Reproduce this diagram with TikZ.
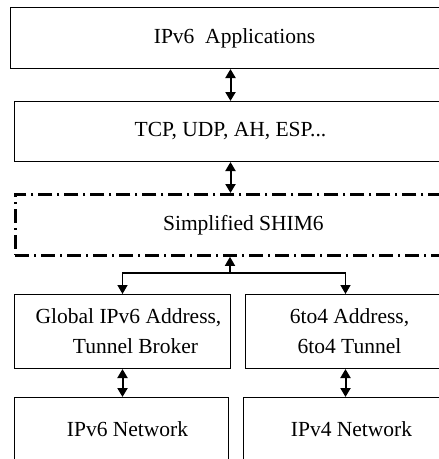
\documentclass[tikz,border=0pt]{standalone}
\usepackage{fontspec}
\setmainfont{Liberation Serif}
\usetikzlibrary{arrows.meta}
\tikzset{
  layer/.style={draw, line width=1pt, anchor=north west, inner sep=0pt,
    align=center, font=\fontsize{21.5}{30}\selectfont},
  shimbox/.style={layer, line width=2.8pt,
    dash pattern=on 14pt off 5pt on 2pt off 5pt},
  link/.style={line width=2pt,
    {Triangle[length=9pt,width=10pt]}-{Triangle[length=9pt,width=10pt]}},
  uplink/.style={line width=1.4pt, -{Triangle[length=9pt,width=10pt]}}
}
\begin{document}
\begin{tikzpicture}[x=1pt,y=-1pt]
  \useasboundingbox (0,0) rectangle (439,459);
  \clip (0,0) rectangle (439,459);
  \node[layer, minimum width=448pt, minimum height=61pt] (app) at (10,7) {IPv6\ \ Applications};
  \node[layer, minimum width=432pt, minimum height=60pt] (tcp) at (14,101) {TCP, UDP, AH, ESP...};
  \node[shimbox, minimum width=456pt, minimum height=61pt] (shim) at (14,193) {Simplified SHIM6};
  \node[layer, minimum width=216pt, minimum height=74pt] (gaddr) at (14,294) {\hspace*{12pt}Global IPv6 Address,\\ \hspace*{26pt}Tunnel Broker};
  \node[layer, minimum width=200pt, minimum height=74pt] (tun) at (245,294) {\hspace*{8pt}6to4 Address,\\ \hspace*{8pt}6to4 Tunnel};
  \node[layer, minimum width=214pt, minimum height=64pt] (vsix) at (14,397) {\hspace*{12pt}IPv6 Network};
  \node[layer, minimum width=204pt, minimum height=64pt] (vfour) at (243,397) {\hspace*{12pt}IPv4 Network};
  \coordinate (split) at (230,273);
  \draw[link] (tcp.north |- app.south) -- (tcp.north);
  \draw[link] (tcp.south) -- (tcp.south |- shim.north);
  \draw[uplink] (split) -- (split |- shim.south);
  \draw[uplink] (split) -| (gaddr.north);
  \draw[uplink] (split) -| (tun.north);
  \draw[link] (gaddr.south) -- (gaddr.south |- vsix.north);
  \draw[link] (tun.south) -- (vfour.north);
\end{tikzpicture}
\end{document}
